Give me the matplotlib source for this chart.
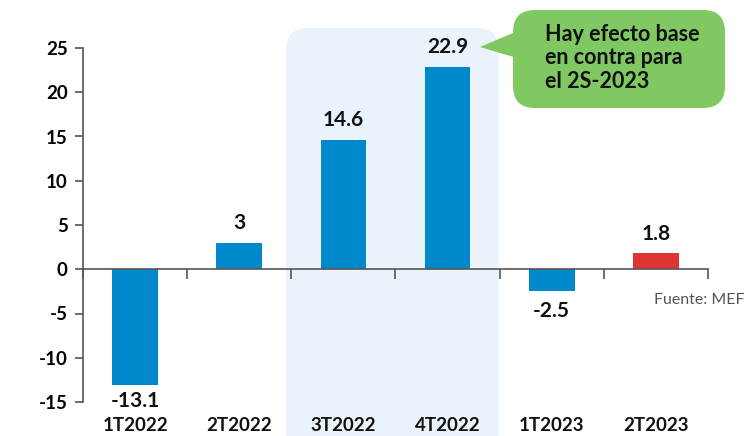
import numpy as np
import matplotlib
matplotlib.use("Agg")
import matplotlib.pyplot as plt
from matplotlib.patches import FancyBboxPatch, Polygon
from matplotlib.transforms import IdentityTransform, blended_transform_factory

# data
periodos = ["1T2022", "2T2022", "3T2022", "4T2022", "1T2023", "2T2023"]
valores = [-13.1, 3, 14.6, 22.9, -2.5, 1.8]
etiquetas = ["-13.1", "3", "14.6", "22.9", "-2.5", "1.8"]
colores = ["#0088CC"] * 5 + ["#E03333"]
yticks = [-15, -10, -5, 0, 5, 10, 15, 20, 25]
nota = "Hay efecto base\nen contra para\nel 2S-2023"
fuente = "Fuente: MEF"

plt.rcParams['font.family'] = ['Lato', 'DejaVu Sans']

W, H = 746, 436
fig = plt.figure(figsize=(W / 100, H / 100), dpi=100)
ax = fig.add_axes([83 / W, 1 - 402 / H, 625 / W, 354 / H])
ax.set_xlim(-0.5, 5.5)
ax.set_ylim(-15, 25)
ax.patch.set_alpha(0)

x = np.arange(len(periodos))
ax.bar(x, valores, width=0.44, color=colores, zorder=3)

# highlighted band behind 3T2022-4T2022 (pixel coords)
bx0 = ax.transData.transform((1.45, 0))[0]
bx1 = ax.transData.transform((3.49, 0))[0]
band = FancyBboxPatch((bx0, -20), bx1 - bx0, H - 28 + 20,
                      boxstyle="round,pad=0,rounding_size=22",
                      transform=IdentityTransform(), facecolor="#EAF2FA",
                      edgecolor="none", zorder=0, clip_on=False)
ax.add_artist(band)

# spines / ticks
for s in ["top", "right"]:
    ax.spines[s].set_visible(False)
ax.spines['bottom'].set_position(('data', 0))
ax.spines['left'].set_color("#555555")
ax.spines['bottom'].set_color("#555555")
ax.spines['left'].set_linewidth(1.2)
ax.spines['bottom'].set_linewidth(1.2)
ax.spines['bottom'].set_zorder(4)
ax.set_yticks(yticks)
ax.set_yticklabels([str(v) for v in yticks], fontsize=13.5, fontweight='bold')
ax.tick_params(axis='y', length=6, width=1.2, color="#555555", pad=5)
ax.set_xticks(np.arange(-0.5, 6, 1))
ax.set_xticklabels([])
ax.tick_params(axis='x', length=7, width=1.2, color="#555555")

tr = blended_transform_factory(ax.transData, ax.transAxes)
for xi, p in zip(x, periodos):
    ax.text(xi, -0.065, p, transform=tr, ha='center', va='center',
            fontsize=13.5, fontweight='bold', color="#111111")

for xi, v, lab in zip(x, valores, etiquetas):
    if v >= 0:
        ax.annotate(lab, (xi, v), xytext=(0, 7), textcoords='offset points',
                    ha='center', va='bottom', fontsize=15, fontweight='bold',
                    color="#111111", zorder=5)
    else:
        ax.annotate(lab, (xi, v), xytext=(0, -7 if v > -5 else -4),
                    textcoords='offset points', ha='center', va='top',
                    fontsize=15, fontweight='bold', color="#111111", zorder=5)

fig.text(744 / W, 1 - 300 / H, fuente, ha='right', va='center',
         fontsize=11.5, color="#555555")

# callout bubble (pixel coords, y from bottom)
green = "#80C962"
bubble = FancyBboxPatch((513, H - 108), 212, 98,
                        boxstyle="round,pad=0,rounding_size=22",
                        transform=IdentityTransform(), facecolor=green,
                        edgecolor="none", zorder=6)
fig.patches.append(bubble)
tail = Polygon([(520, H - 30), (480, H - 47), (520, H - 59)], closed=True,
               transform=IdentityTransform(), facecolor=green,
               edgecolor="none", zorder=6)
fig.patches.append(tail)
fig.text(545 / W, 1 - 58 / H, nota, ha='left', va='center', fontsize=15.5,
         fontweight='bold', color="#111111", linespacing=1.15, zorder=7)

fig.savefig("out.png", dpi=100)
